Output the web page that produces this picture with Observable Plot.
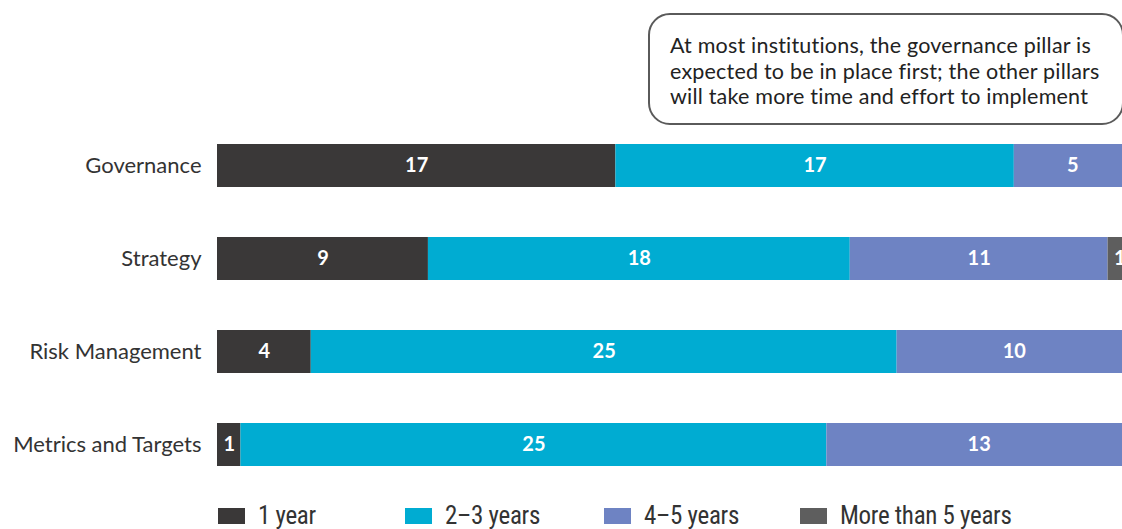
<!DOCTYPE html>
<html>
<head>
<meta charset="utf-8">
<script src="https://cdn.jsdelivr.net/npm/d3@7"></script>
<script src="https://cdn.jsdelivr.net/npm/@observablehq/plot@0.6"></script>
<style>
  html, body { margin: 0; padding: 0; background: #fff; overflow: hidden; width: 1122px; height: 529px; }
  #wrap { position: relative; width: 1131px; height: 529px; }
  #note {
    position: absolute; left: 648px; top: 13px; width: 476px; height: 112px;
    border: 2px solid #5a5a5a; border-radius: 22px; box-sizing: border-box;
    font-family: Lato, "Open Sans", sans-serif; font-size: 21.5px; line-height: 25.5px;
    color: #222; padding: 18px 0 0 20px; background: #fff; letter-spacing: 0.2px;
  }
  #legend {
    position: absolute; left: 218px; top: 501px; display: flex; align-items: center;
    font-family: "Liberation Sans Narrow", "Roboto Condensed", sans-serif; font-stretch: condensed;
    font-size: 25px; color: #333; letter-spacing: -0.3px;
  }
  .item { display: flex; align-items: center; }
  .sw { width: 27px; height: 16px; margin-right: 13px; }
  .item:nth-child(1) { width: 187px; }
  .item:nth-child(2) { width: 199px; }
  .item:nth-child(3) { width: 196px; }
</style>
</head>
<body>
<div id="wrap">
  <div id="chart"></div>
  <div id="note"></div>
  <div id="legend"></div>
</div>
<script>
const categories = ["Governance", "Strategy", "Risk Management", "Metrics and Targets"];
const seriesNames = ["1 year", "2–3 years", "4–5 years", "More than 5 years"];
const oneYear = [17, 9, 4, 1];
const twoToThree = [17, 18, 25, 25];
const fourToFive = [5, 11, 10, 13];
const moreThanFive = [0, 1, 0, 0];
const colors = ["#3a3838", "#00acd2", "#6e83c3", "#5e5e5e"];
const noteLines = [
  "At most institutions, the governance pillar is",
  "expected to be in place first; the other pillars",
  "will take more time and effort to implement"
];

const seriesValues = [oneYear, twoToThree, fourToFive, moreThanFive];
const data = [];
categories.forEach((c, i) => {
  seriesNames.forEach((s, j) => {
    data.push({category: c, series: s, value: seriesValues[j][i]});
  });
});

const chart = Plot.plot({
  width: 1131,
  height: 500,
  marginLeft: 217,
  marginRight: 0,
  marginTop: 125,
  marginBottom: 15,
  style: {fontFamily: "Lato, 'Open Sans', sans-serif", background: "#fff"},
  x: {domain: [0, 39], axis: null},
  y: {domain: categories, paddingInner: 0.5376, paddingOuter: 0.2, label: null},
  color: {domain: seriesNames, range: colors},
  marks: [
    Plot.barX(data, Plot.stackX({x: "value", y: "category", z: "series", fill: "series", order: seriesNames})),
    Plot.text(data, Plot.stackX({
      x: "value", y: "category", z: "series", order: seriesNames,
      text: d => d.value > 0 ? String(d.value) : "",
      fill: "#fff", fontWeight: "bold", fontSize: 20, fontFamily: "Lato, sans-serif"
    })),
    Plot.axisY({tickSize: 0, tickPadding: 16, fontSize: 22, color: "#333", label: null})
  ]
});
document.getElementById("chart").appendChild(chart);

document.getElementById("note").innerHTML = noteLines.join("<br>");

const legend = document.getElementById("legend");
seriesNames.forEach((s, i) => {
  const item = document.createElement("div");
  item.className = "item";
  item.innerHTML = `<span class="sw" style="background:${colors[i]}"></span><span>${s}</span>`;
  legend.appendChild(item);
});
</script>
</body>
</html>
